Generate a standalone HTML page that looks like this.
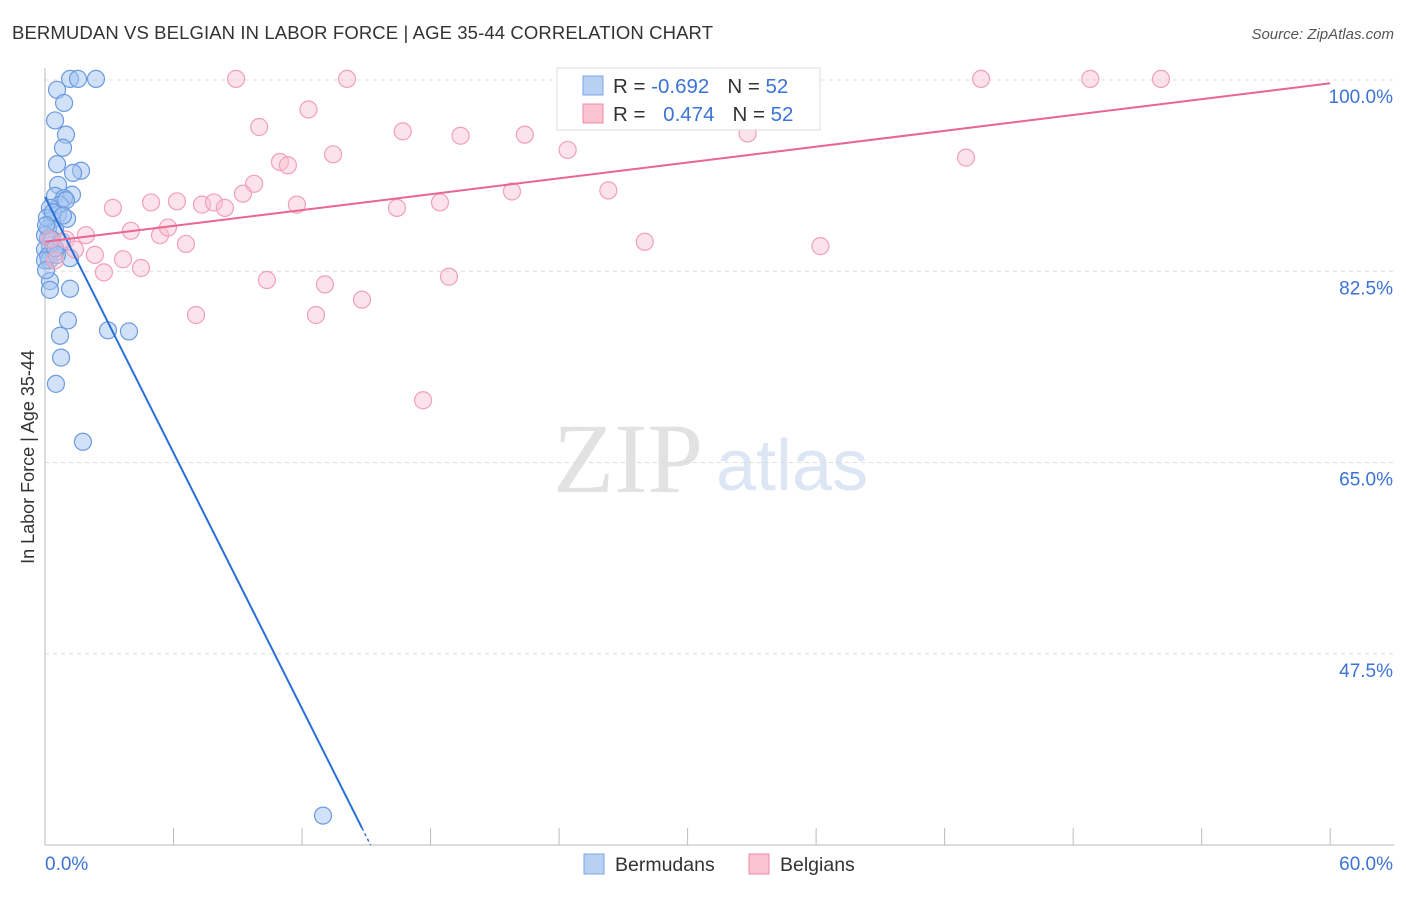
<!DOCTYPE html>
<html><head><meta charset="utf-8"><style>
body{margin:0;background:#fff;font-family:"Liberation Sans",sans-serif;}
svg text{font-family:"Liberation Sans",sans-serif;}
svg text.serif{font-family:"Liberation Serif",serif;}
</style></head><body>
<svg id="chart" width="1406" height="892" xmlns="http://www.w3.org/2000/svg">
<text x="12" y="39" font-size="18.5" fill="#333" textLength="701">BERMUDAN VS BELGIAN IN LABOR FORCE | AGE 35-44 CORRELATION CHART</text>
<text x="1394" y="39" font-size="15" fill="#555" text-anchor="end" font-style="italic">Source: ZipAtlas.com</text>
<text class="serif" x="553" y="492" font-size="100" fill="#e2e2e2">ZIP</text>
<text x="716" y="490" font-size="72" fill="#dce6f5">atlas</text>
<text transform="translate(34,457) rotate(-90)" font-size="18" fill="#333" text-anchor="middle">In Labor Force | Age 35-44</text>
<g id="grid"></g><g id="pts"></g><g id="lines"></g>
<g>
<rect x="557" y="68" width="263" height="62" fill="#fff" stroke="#ddd"/>
<rect x="583" y="76" width="20" height="19" fill="#b8d1f3" stroke="#7aa5e6"/>
<rect x="583" y="104" width="20" height="19" fill="#f9c3d2" stroke="#f08aa8"/>
<text x="613" y="93" font-size="20.5" fill="#333">R = <tspan fill="#3b74d6">-0.692</tspan><tspan dx="18">N = </tspan><tspan fill="#3b74d6">52</tspan></text>
<text x="613" y="121" font-size="20.5" fill="#333">R = <tspan fill="#3b74d6" dx="12">0.474</tspan><tspan dx="18">N = </tspan><tspan fill="#3b74d6">52</tspan></text>
</g>
<g>
<rect x="584" y="854" width="20" height="20" fill="#b8d1f3" stroke="#7aa5e6"/>
<text x="615" y="871" font-size="19.5" fill="#333">Bermudans</text>
<rect x="749" y="854" width="20" height="20" fill="#f9c3d2" stroke="#f08aa8"/>
<text x="780" y="871" font-size="19.5" fill="#333">Belgians</text>
</g>
</svg>
<script>
const yTicks=[100,82.5,65,47.5];
const yTickLabels=["100.0%","82.5%","65.0%","47.5%"];
const xTickLabels=["0.0%","60.0%"];
const bermX=[1.17,1.54,2.38,0.56,0.89,0.47,0.98,0.84,0.56,1.68,1.31,0.61,0.47,1.26,0.89,0.70,0.23,0.61,1.03,0.33,0.14,0.47,0.14,0.23,0.0,0.47,0.14,1.17,0.19,0.23,0.23,1.17,1.07,0.70,0.75,0.51,2.94,3.92,1.77,12.98,0.09,0.0,0.33,0.79,0.0,0.56,0.98,0.37,0.05,0.47,0.84,0.05];
const bermY=[100.1,100.1,100.1,99.1,97.9,96.3,95.0,93.8,92.3,91.7,91.5,90.4,89.4,89.5,89.2,88.6,88.3,87.7,87.3,87.2,86.4,86.3,85.5,84.9,84.5,84.2,83.9,83.7,83.5,81.6,80.8,80.9,78.0,76.6,74.6,72.2,77.1,77.0,66.9,32.7,87.4,85.8,85.4,85.2,83.5,84.0,89.0,87.9,86.7,84.6,87.6,82.6];
const belgX=[8.92,14.1,43.7,48.8,52.1,25.4,10.0,12.3,16.7,19.4,22.4,24.4,32.8,43.0,10.97,11.34,13.45,9.76,9.24,6.16,4.95,3.17,7.33,7.89,8.40,11.76,16.43,18.44,21.8,26.3,4.01,5.37,5.74,6.58,1.91,2.33,3.64,2.75,4.48,10.36,13.07,18.86,28.0,36.2,7.05,12.65,14.8,17.65,0.98,0.23,0.47,1.40];
const belgY=[100.1,100.1,100.1,100.1,100.1,96.8,95.7,97.3,95.3,94.9,95.0,93.6,95.1,92.9,92.5,92.2,93.2,90.5,89.6,88.9,88.8,88.3,88.6,88.8,88.3,88.6,88.3,88.8,89.8,89.9,86.2,85.8,86.5,85.0,85.8,84.0,83.6,82.4,82.8,81.7,81.3,82.0,85.2,84.8,78.5,78.5,79.9,70.7,85.4,85.4,83.5,84.5];
const bermLine=[[0,89.3],[15.2,30]];
const bermSolidEnd=14.8;
const belgLine=[[0,85.2],[60,99.7]];
const NS="http://www.w3.org/2000/svg";
const X=v=>45+v*21.42, Y=v=>80+(100-v)*10.93;
function mk(t,a,p){const e=document.createElementNS(NS,t);for(const k in a)e.setAttribute(k,a[k]);p.appendChild(e);return e;}
const g=document.getElementById('grid');
yTicks.forEach((t,i)=>{
 const l=mk('line',{x1:45,x2:1394,y1:Y(t),y2:Y(t),stroke:'#ddd','stroke-dasharray':'4,4'},g);
 
 
 const tx=mk('text',{x:1393,y:Y(t)+23,'font-size':19,fill:'#3b74d6','text-anchor':'end'},g);tx.textContent=yTickLabels[i];
 
 
});
mk('line',{x1:45,x2:45,y1:68,y2:845,stroke:'#bbb'},g);
mk('line',{x1:45,x2:1394,y1:845,y2:845,stroke:'#bbb'},g);
for(let i=0;i<=10;i++){const t=mk('line',{x1:X(i*6),x2:X(i*6),y1:828,y2:845,stroke:'#bbb'},g);
 
 }
[[0,'start',45],[60,'end',1393]].forEach((d,i)=>{const t=mk('text',{x:d[2],y:870,'font-size':19,fill:'#3b74d6','text-anchor':d[1]},g);t.textContent=xTickLabels[i];
 
 });
const p=document.getElementById('pts');
bermX.forEach((v,i)=>{const c=mk('circle',{cx:X(v),cy:Y(bermY[i]),r:8.5,fill:'rgba(164,196,240,0.5)',stroke:'#6b9be0','stroke-width':1.2},p);
 
 });
belgX.forEach((v,i)=>{const c=mk('circle',{cx:X(v),cy:Y(belgY[i]),r:8.5,fill:'rgba(248,190,208,0.45)',stroke:'#f0a0b8','stroke-width':1.2},p);
 
 });
const L=document.getElementById('lines');
const bf=x=>bermLine[0][1]+(bermLine[1][1]-bermLine[0][1])*(x-bermLine[0][0])/(bermLine[1][0]-bermLine[0][0]);
const bl=mk('line',{x1:X(bermLine[0][0]),y1:Y(bermLine[0][1]),x2:X(bermSolidEnd),y2:Y(bf(bermSolidEnd)),stroke:'#2a6fd6','stroke-width':2},L);


const bd=mk('line',{x1:X(bermSolidEnd),y1:Y(bf(bermSolidEnd)),x2:X(bermLine[1][0]),y2:Y(bermLine[1][1]),stroke:'#2a6fd6','stroke-width':1.5,'stroke-dasharray':'3,3'},L);


const pl=mk('line',{x1:X(belgLine[0][0]),y1:Y(belgLine[0][1]),x2:X(belgLine[1][0]),y2:Y(belgLine[1][1]),stroke:'#e8668f','stroke-width':2},L);


</script>
</body></html>
